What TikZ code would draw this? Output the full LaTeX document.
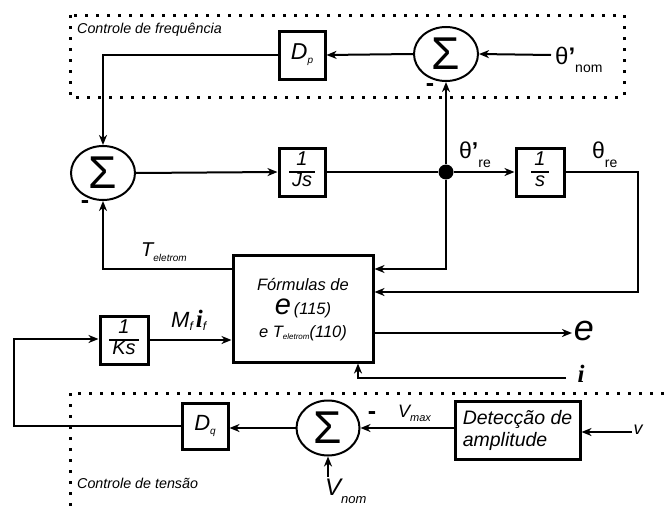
\documentclass[tikz,border=0pt]{standalone}
\usepackage{fontspec}
\setmainfont{Liberation Sans}
\newfontfamily\serifi{Liberation Serif}
\usetikzlibrary{shapes.geometric,arrows.meta,calc}
\newcommand\myfs[1]{\fontsize{#1}{#1}\selectfont}
\newcommand\mysub[3]{\raisebox{-#2pt}{\myfs{#1}#3}}
\newcommand\myfrac[2]{{\setlength\arrayrulewidth{1.3pt}\renewcommand\arraystretch{1.0}\begin{tabular}{@{\hspace{3pt}}c@{\hspace{3pt}}}#1\\\hline #2\end{tabular}}}
\newcommand\myi{{\serifi\bfseries\itshape i}}
\begin{document}
\begin{tikzpicture}[x=1pt,y=-1pt,
 blk/.style={draw,line width=3pt,inner sep=0pt,font=\itshape},
 sumn/.style={draw,ellipse,line width=2pt,inner sep=0pt,minimum width=64pt,minimum height=54pt},
 ln/.style={line width=2pt},
 arr/.style={line width=2pt,-{Stealth[length=10pt,width=8pt,inset=3pt]}},
 dots/.style={line width=3pt,dash pattern=on 3pt off 8pt},
 lab/.style={inner sep=0pt,font=\itshape},
 mns/.style={inner sep=0pt,font=\bfseries\myfs{25}}]
\path[use as bounding box] (0,0) rectangle (670,506);

% dotted regions
\draw[dots] (70,15) rectangle (624,97);
\draw[dots] (70,506) -- (70,393) -- (670,393);
\node[lab,anchor=base west] (cf) at (77,33) {\myfs{14.3}Controle de frequência};
\node[lab,anchor=base west] (ct) at (77,488) {\myfs{14.3}Controle de tensão};

% blocks
\node[sumn] (st) at (446,54) {\myfs{46}Σ};
\node[sumn] (sl) at (103,173) {\myfs{46}Σ};
\node[sumn,minimum width=63pt,minimum height=55pt] (sb) at (328,428) {\myfs{46}Σ};
\node[blk,minimum width=46pt,minimum height=48pt] (dp) at (302,55) {\myfs{23}D\mysub{10}{4}{p}};
\node[blk,minimum width=46pt,minimum height=48pt] (js) at (302,172) {\myfs{20}\myfrac{1}{Js}};
\node[circle,fill,inner sep=0pt,minimum size=15pt] (dot) at (446,172) {};
\node[blk,minimum width=48pt,minimum height=48pt] (sx) at (540,172) {\myfs{20}\myfrac{1}{s}};
\node[blk,minimum width=140pt,minimum height=107pt] (fm) at (303,308.5) {};
\node[lab,anchor=base] (fm1) at (303,290) {\myfs{16.5}Fórmulas de};
\node[lab,anchor=base] (fm2) at (303,314) {{\myfs{29}e} \myfs{16.5}(115)};
\node[lab,anchor=base] (fm3) at (303,337) {\myfs{16.5}e T\mysub{8}{2}{eletrom}(110)};
\node[blk,minimum width=48pt,minimum height=48pt] (ks) at (124,340) {\myfs{20}\myfrac{1}{Ks}};
\node[blk,minimum width=46pt,minimum height=46pt] (dq) at (205,426) {\myfs{22}D\mysub{10}{4}{q}};
\node[blk,minimum width=125pt,minimum height=58pt,align=left,font=\itshape\fontsize{19.5}{22}\selectfont] (det) at (517.5,430) {Detecção de\\amplitude};

% labels
\node[anchor=base west,inner sep=0pt] (lnom) at (555,64) {\myfs{24}θ\textbf{’}\mysub{14}{8}{nom}};
\node[anchor=base west,inner sep=0pt] (lre1) at (459,158) {\myfs{23}θ\textbf{’}\mysub{14}{9}{re}};
\node[anchor=base west,inner sep=0pt] (lre2) at (592,158) {\myfs{23}θ\mysub{14}{9}{re}};
\node[lab,anchor=base west] (lte) at (141,256) {\myfs{20}T\mysub{10}{5}{eletrom}};
\node[lab,anchor=base west] (lmf) at (171,327) {\myfs{22}M\mysub{12}{3}{f}\hspace{3pt}{\myfs{25}\myi}\mysub{12}{3}{f}};
\node[lab,anchor=base west] (lvm) at (398,417) {\myfs{18}V\mysub{11}{4}{max}};
\node[lab,anchor=base west] (lvn) at (325,495) {\myfs{24}V\mysub{13}{8}{nom}};
\node[lab] (le) at (584,331) {\myfs{36}e};
\node[lab] (li) at (581,374) {\myfs{25}\myi};
\node[lab] (lv) at (638,430) {\myfs{18}v};
\node[mns] (m1) at (430,88) {-};
\node[mns] (m2) at (85,205) {-};
\node[mns] (m3) at (372,416) {-};

% connectors
\coordinate (thn) at (551,55);
\draw[arr] (thn) -- (st.east);
\draw[arr] (st.west) -- (dp.east);
\draw[arr] (dp.west) -| (sl.north);
\draw[arr] (sl.east) -- (js.west);
\draw[ln] (js.east) -- (dot);
\draw[arr] (dot) -- (sx.west);
\draw[arr] (dot) -- (st.south);
\coordinate (rc) at (638,292);
\draw[arr] (sx.east) -| (rc) -- (fm.east |- rc);
\coordinate (y1) at (0,269);
\draw[arr] (dot) |- (fm.east |- y1);
\draw[arr] (fm.west |- y1) -| (sl.south);
\draw[arr] (ks.east) -- (fm.west |- ks.east);
\coordinate (eo) at (572,333);
\draw[arr,line width=2.5pt] (fm.east |- eo) -- (eo);
\coordinate (ii) at (566,378);
\coordinate (ix) at (358,0);
\draw[arr] (ii) -| (fm.south -| ix);
\draw[arr] (det.west |- sb.east) -- (sb.east);
\coordinate (vi) at (632,432);
\draw[arr] (vi) -- (det.east |- vi);
\draw[arr] (sb.west) -- (dq.east |- sb.west);
\coordinate (lc) at (14,339);
\draw[arr] (dq.west) -| (lc) -- (ks.west |- lc);
\coordinate (vn) at (328,477);
\draw[arr] (vn) -- (sb.south);
\end{tikzpicture}
\end{document}
